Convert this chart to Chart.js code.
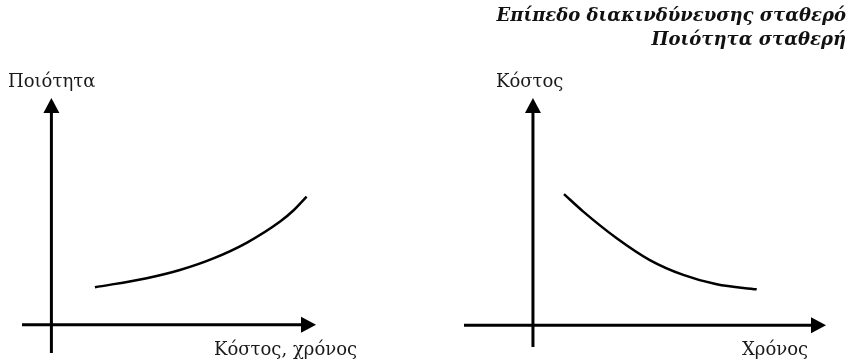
<!DOCTYPE html>
<html>
<head>
<meta charset="utf-8">
<script src="https://cdn.jsdelivr.net/npm/chart.js@4/dist/chart.umd.min.js"></script>
<style>
  html, body { margin: 0; padding: 0; background: #fff; }
  #wrap { position: relative; width: 852px; height: 360px; overflow: hidden; }
  canvas { position: absolute; top: 0; }
  .lbl { position: absolute; font-family: "DejaVu Serif", serif; font-size: 18px; line-height: 18px; color: #1a1a1a; white-space: nowrap; }
  .ttl { position: absolute; right: 6px; font-family: "DejaVu Serif", serif; font-weight: bold; font-style: italic; font-size: 18px; line-height: 18px; color: #111; white-space: nowrap; }
</style>
</head>
<body>
<div id="wrap">
  <canvas id="leftChart" width="426" height="360" style="left:0"></canvas>
  <canvas id="rightChart" width="426" height="360" style="left:426px"></canvas>

  <div class="ttl" style="top:6px">Επίπεδο διακινδύνευσης σταθερό</div>
  <div class="ttl" style="top:30px">Ποιότητα σταθερή</div>

  <div class="lbl" style="left:8px; top:72px">Ποιότητα</div>
  <div class="lbl" style="left:214px; top:340px">Κόστος, χρόνος</div>
  <div class="lbl" style="left:496px; top:72px">Κόστος</div>
  <div class="lbl" style="left:742px; top:340px">Χρόνος</div>
</div>

<script>
  "use strict";

  /* ------------------------------------------------------------------
   * Data
   * ------------------------------------------------------------------ */
  // left: quality vs cost/time
  const leftCost    = [1.48, 3.24, 4.37, 5.51, 6.64, 7.78, 8.23, 8.68];
  const leftQuality = [1.32, 1.64, 1.93, 2.34, 2.89, 3.64, 4.03, 4.52];
  const leftXRange  = [-1, 9];
  const leftYRange  = [-1, 8];

  // right: cost vs time
  const rightTime   = [0.90, 1.46, 2.43, 3.39, 4.36, 5.33, 6.49];
  const rightCost   = [6.00, 5.20, 3.98, 2.98, 2.30, 1.87, 1.64];
  const rightXRange = [-2, 8.5];
  const rightYRange = [-1, 10.4];

  /* ------------------------------------------------------------------
   * Axis lines with arrow heads, crossing at 0,0
   * ------------------------------------------------------------------ */
  const arrowAxes = {
    id: "arrowAxes",
    afterDatasetsDraw: function (chart) {
      const ctx  = chart.ctx;
      const area = chart.chartArea;
      const x0   = chart.scales.x.getPixelForValue(0);
      const y0   = chart.scales.y.getPixelForValue(0);
      const headLen = 15;
      const headW   = 8;

      ctx.save();
      ctx.strokeStyle = "#000";
      ctx.fillStyle   = "#000";
      ctx.lineWidth   = 3;

      // horizontal
      ctx.beginPath();
      ctx.moveTo(area.left, y0);
      ctx.lineTo(area.right - headLen + 2, y0);
      ctx.stroke();
      ctx.beginPath();
      ctx.moveTo(area.right, y0);
      ctx.lineTo(area.right - headLen, y0 - headW);
      ctx.lineTo(area.right - headLen, y0 + headW);
      ctx.closePath();
      ctx.fill();

      // vertical
      ctx.beginPath();
      ctx.moveTo(x0, area.bottom);
      ctx.lineTo(x0, area.top + headLen - 2);
      ctx.stroke();
      ctx.beginPath();
      ctx.moveTo(x0, area.top);
      ctx.lineTo(x0 - headW, area.top + headLen);
      ctx.lineTo(x0 + headW, area.top + headLen);
      ctx.closePath();
      ctx.fill();

      ctx.restore();
    },
  };

  function _points(xs, ys) {
    return xs.map(function (x, i) { return { x: x, y: ys[i] }; });
  }

  function _makeChart(id, xs, ys, xRange, yRange, padding) {
    return new Chart(document.getElementById(id).getContext("2d"), {
      type: "line",
      data: {
        datasets: [{
          data:        _points(xs, ys),
          borderColor: "#000",
          borderWidth: 2.5,
          pointRadius: 0,
          cubicInterpolationMode: "monotone",
          fill:        false,
        }],
      },
      options: {
        responsive: false,
        animation:  false,
        layout:     { padding: padding },
        plugins: {
          legend:  { display: false },
          tooltip: { enabled: false },
        },
        scales: {
          x: { type: "linear", min: xRange[0], max: xRange[1], display: false },
          y: { type: "linear", min: yRange[0], max: yRange[1], display: false },
        },
      },
      plugins: [arrowAxes],
    });
  }

  _makeChart("leftChart",  leftCost,  leftQuality, leftXRange,  leftYRange,
    { left: 22, right: 110, top: 98, bottom: 7 });
  _makeChart("rightChart", rightTime, rightCost,   rightXRange, rightYRange,
    { left: 38, right: 26, top: 98, bottom: 13 });
</script>
</body>
</html>
